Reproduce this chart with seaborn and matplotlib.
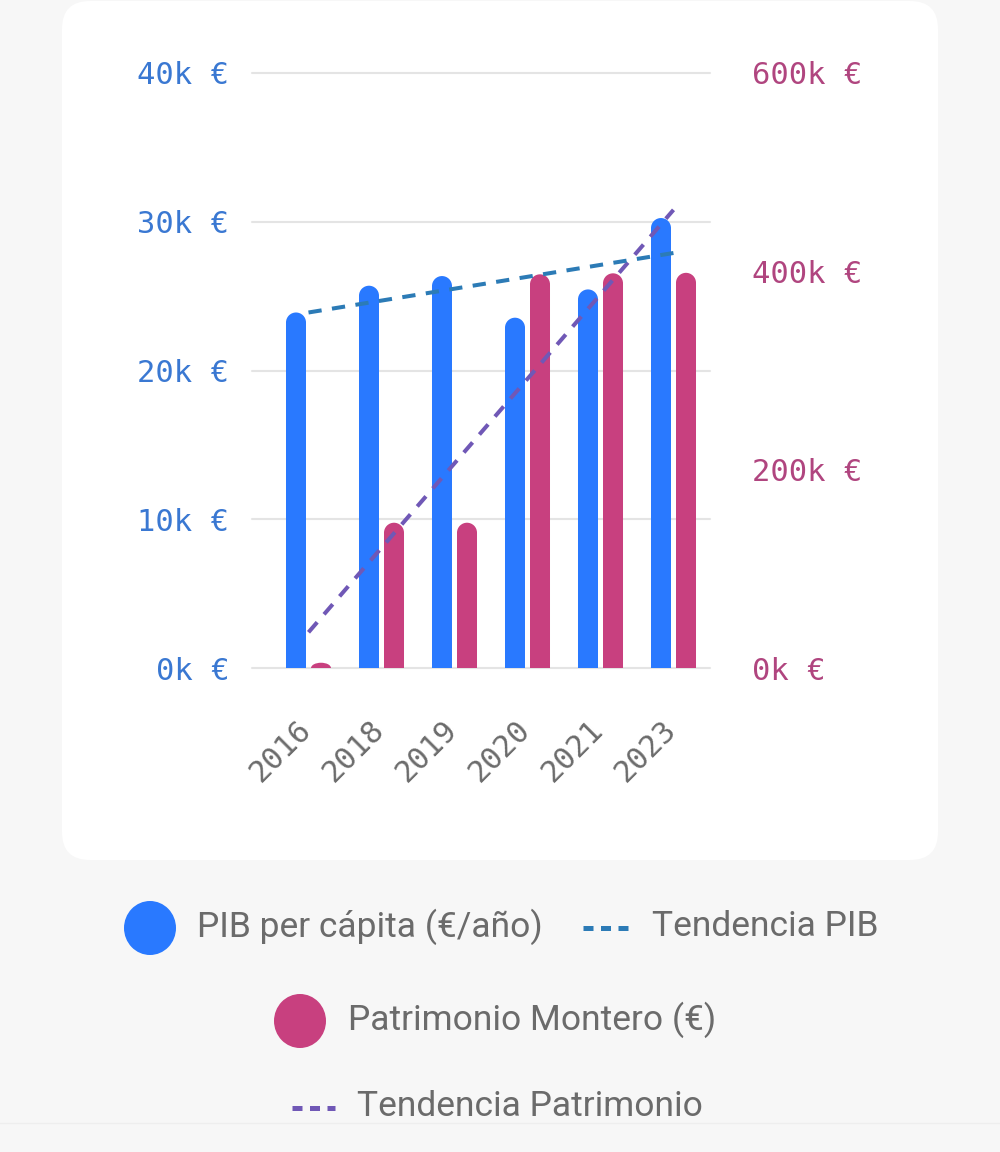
import matplotlib
matplotlib.use("Agg")
import matplotlib.pyplot as plt
from matplotlib.patches import FancyBboxPatch, Ellipse, PathPatch
from matplotlib.path import Path
from matplotlib.lines import Line2D
from matplotlib.transforms import ScaledTranslation
import numpy as np
import pandas as pd
import seaborn as sns

# data
years = ["2016", "2018", "2019", "2020", "2021", "2023"]
pib_per_capita = [23900, 25700, 26350, 23550, 25450, 30250]
patrimonio = [5300, 146500, 146500, 397000, 398000, 398500]

# trend lines, start and end values
tendencia_years = ["2016", "2023"]
tendencia_pib = [23900, 27900]
tendencia_patrimonio = [36000, 462000]

left_ticks = [0, 10000, 20000, 30000, 40000]
right_ticks = [0, 200000, 400000, 600000]

series = ["PIB per cápita (€/año)", "Patrimonio Montero (€)"]

BLUE = "#2979ff"
MAGENTA = "#c8407f"
TREND_PIB = "#2c7bb6"
TREND_PAT = "#7058b6"
LEFT_TXT = "#3a78d2"
RIGHT_TXT = "#b0457f"
GRAY_TXT = "#6b6b6b"
GRID = "#e4e4e4"
MONO = "DejaVu Sans Mono"
SANS = "Roboto"

sns.set_style("white")
plt.rcParams["font.family"] = [SANS, "DejaVu Sans"]

df = pd.DataFrame({
    "year": years * 2,
    "serie": [series[0]] * len(years) + [series[1]] * len(years),
    "valor": pib_per_capita + patrimonio,
})

W, H = 1000, 1152
fig = plt.figure(figsize=(W / 100, H / 100), dpi=100)
fig.patch.set_facecolor("#f7f7f7")

# background card
bg = fig.add_axes([0, 0, 1, 1], zorder=-10)
bg.set_xlim(0, W)
bg.set_ylim(H, 0)
bg.axis("off")
bg.add_patch(FancyBboxPatch((62, 1), 876, 859, boxstyle="round,pad=0,rounding_size=28",
                            fc="white", ec="none"))
bg.axhline(1123, color="#eeeeee", lw=1)

# plot area
left, right, top, bottom = 252, 710, 73, 668
pos = [left / W, 1 - bottom / H, (right - left) / W, (bottom - top) / H]
ax = fig.add_axes(pos, zorder=1)
ax.patch.set_visible(False)
ax2 = ax.twinx()
ax3 = ax.twinx()

pal = {series[0]: BLUE, series[1]: MAGENTA}
bar_kw = dict(x="year", y="valor", hue="serie", hue_order=series, order=years,
              palette=pal, width=0.685, gap=0.2, dodge=True, saturation=1,
              errorbar=None, legend=False)
sns.barplot(data=df[df["serie"] == series[0]], ax=ax, **bar_kw)
sns.barplot(data=df[df["serie"] == series[1]], ax=ax2, **bar_kw)

xlim = ((left - 308.5) / 73, (right - 308.5) / 73)
ax.set_xlim(*xlim)
ax.set_ylim(0, left_ticks[-1])
ax2.set_ylim(0, right_ticks[-1])
ax3.set_ylim(0, left_ticks[-1])


def round_tops(axis, color):
    # swap each seaborn bar for one with a semicircular top
    p0 = axis.transData.transform((0, 0))
    p1 = axis.transData.transform((1, 1))
    aspect = (p1[0] - p0[0]) / (p1[1] - p0[1])
    arc = Path.arc(0, 180)
    for rect in list(axis.patches):
        x, w, h = rect.get_x(), rect.get_width(), rect.get_height()
        rx = w / 2
        ry = min(rx * aspect, h)
        cx, cy = x + rx, h - ry
        av = arc.vertices.copy()
        av[:, 0] = cx + av[:, 0] * rx
        av[:, 1] = cy + av[:, 1] * ry
        verts = [(x + w, 0), (x + w, cy)] + [tuple(v) for v in av[1:]] + [(x, 0), (x + w, 0)]
        codes = [Path.MOVETO, Path.LINETO] + list(arc.codes[1:]) + [Path.LINETO, Path.CLOSEPOLY]
        rect.remove()
        axis.add_patch(PathPatch(Path(verts, codes), fc=color, ec="none", lw=0))


round_tops(ax, BLUE)
round_tops(ax2, MAGENTA)

tx = [years.index(y) for y in tendencia_years]
sns.lineplot(x=tx, y=tendencia_patrimonio, ax=ax2, color=TREND_PAT, lw=2.9,
             linestyle=(0, (3.3, 2.6)), legend=False)
sns.lineplot(x=tx, y=tendencia_pib, ax=ax3, color=TREND_PIB, lw=2.9,
             linestyle=(0, (3.3, 2.6)), legend=False)
ax.set_xlim(*xlim)
ax2.set_ylim(0, right_ticks[-1])
ax3.set_ylim(0, left_ticks[-1])

# grid
for v in left_ticks:
    ax.axhline(v, color=GRID, lw=1.5, zorder=0, clip_on=False)

for a in (ax, ax2, ax3):
    for s in a.spines.values():
        s.set_visible(False)
    a.set_xlabel("")
    a.set_ylabel("")

ax.set_yticks(left_ticks)
ax.set_yticklabels([f"{v // 1000}k €" for v in left_ticks])
ax.tick_params(axis="y", length=0, pad=16.5, labelcolor=LEFT_TXT, labelsize=22)
for t in ax.get_yticklabels():
    t.set_fontfamily(MONO)

ax2.set_yticks(right_ticks)
ax2.set_yticklabels([f"{v // 1000}k €" for v in right_ticks])
ax2.tick_params(axis="y", length=0, pad=30, labelcolor=RIGHT_TXT, labelsize=22)
for t in ax2.get_yticklabels():
    t.set_fontfamily(MONO)

ax3.set_yticks([])

ax.set_xticks(range(len(years)))
ax.set_xticklabels(years)
ax.tick_params(axis="x", length=0, pad=34, labelcolor=GRAY_TXT, labelsize=22)
shift = ScaledTranslation(-12 / 100, 0, fig.dpi_scale_trans)
for t in ax.get_xticklabels():
    t.set_fontfamily(MONO)
    t.set_rotation(45)
    t.set_ha("right")
    t.set_va("top")
    t.set_rotation_mode("anchor")
    t.set_transform(t.get_transform() + shift)

# legend below the card
lg = fig.add_axes([0, 0, 1, 1], zorder=5)
lg.set_xlim(0, W)
lg.set_ylim(H, 0)
lg.axis("off")
lg.patch.set_visible(False)
txt_kw = dict(fontsize=25.5, color=GRAY_TXT, va="center", ha="left", family=[SANS, "DejaVu Sans"])

lg.add_patch(Ellipse((150, 928), 52, 54, fc=BLUE, ec="none"))
lg.text(197, 927, series[0], **txt_kw)
lg.add_line(Line2D([583, 628], [928, 928], color=TREND_PIB, lw=3.6,
                   linestyle=(0, (2.0, 1.5)), solid_capstyle="butt"))
lg.text(652, 927, "Tendencia PIB", **txt_kw)

lg.add_patch(Ellipse((300, 1021), 52, 54, fc=MAGENTA, ec="none"))
lg.text(348, 1020, series[1], **txt_kw)

lg.add_line(Line2D([292, 335], [1108, 1108], color=TREND_PAT, lw=3.6,
                   linestyle=(0, (2.0, 1.5)), solid_capstyle="butt"))
lg.text(357, 1107, "Tendencia Patrimonio", **txt_kw)

fig.savefig("out.png", dpi=100, facecolor=fig.get_facecolor())
